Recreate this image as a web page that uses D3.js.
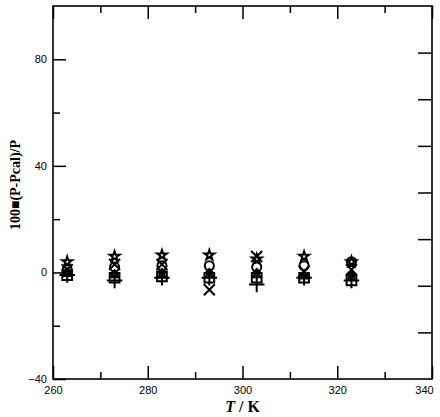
<!DOCTYPE html>
<html>
<head>
<meta charset="utf-8">
<script src="https://cdn.jsdelivr.net/npm/d3@7"></script>
<style>
  body { margin: 0; background: #fff; }
  .tick text { font-family: 'Liberation Sans', Arial, sans-serif; font-size: 11px; fill: #000; }
  .tick line { stroke: #000; stroke-width: 1.5; }
</style>
</head>
<body>
<div id="chart"></div>
<script>
// temperatures (K)
const temps = [263, 273, 283, 293, 303, 313, 323];

// deviations 100*(P-Pcal)/P, one array per marker series
const starDev = [4, 6, 6.5, 6.5, 5, 6, 4];
const circleDev = [1, 2, 2.5, 2.5, 2, 2.5, 4];
const timesDev = [1, 3, 3, -6.5, 6, 0.5, 1];
const squareDev = [-1, -2, -1.5, -2, -2, -2, -3];
const triangleDev = [-0.5, -1, -1, -1, -1, -1.5, -2];
const plusDev = [-1, -3, -2, -2, -4.5, -2, -3];
const diamondDev = [0, -0.5, 0, 0, 0, -1, -1];

const xMajor = [260, 280, 300, 320, 340];
const xMinor = [270, 290, 310, 330];
const yMajor = [-40, 0, 40, 80];
const yMinor = [-20, 20, 60];

const series = [
  { name: 'star', values: starDev, symbol: d3.symbolStar, size: 30 },
  { name: 'circle', values: circleDev, symbol: d3.symbolCircle, size: 65 },
  { name: 'times', values: timesDev, symbol: d3.symbolTimes, size: 80 },
  { name: 'square', values: squareDev, symbol: d3.symbolSquare2, size: 120 },
  { name: 'triangle', values: triangleDev, symbol: d3.symbolTriangle2, size: 40 },
  { name: 'plus', values: plusDev, symbol: d3.symbolPlus, size: 80 },
  { name: 'diamond', values: diamondDev, symbol: d3.symbolDiamond2, size: 30 },
];

const width = 440;
const height = 417;
const margin = { top: 6, right: 8, bottom: 38, left: 53 };
const innerW = width - margin.left - margin.right;
const innerH = height - margin.top - margin.bottom;

const svg = d3.select('#chart').append('svg')
  .attr('width', width)
  .attr('height', height);

const g = svg.append('g')
  .attr('transform', `translate(${margin.left},${margin.top})`);

const x = d3.scaleLinear().domain([260, 340]).range([0, innerW]);
const y = d3.scaleLinear().domain([-40, 100]).range([innerH, 0]);
// right axis has its own 8 equal divisions
const yRight = d3.scaleLinear().domain([0, 8]).range([innerH, 0]);

// bottom axis
g.append('g')
  .attr('transform', `translate(0,${innerH})`)
  .call(d3.axisBottom(x).tickValues(xMajor).tickSize(-13).tickPadding(7).tickFormat(d3.format('d')))
  .call(a => a.select('.domain').remove())
  .call(a => a.selectAll('.tick text').filter(d => d === 340).attr('dx', -8));
g.append('g')
  .attr('transform', `translate(0,${innerH})`)
  .call(d3.axisBottom(x).tickValues(xMinor).tickSize(-7).tickFormat(''))
  .call(a => a.select('.domain').remove());

// top axis
g.append('g')
  .call(d3.axisTop(x).tickValues(xMajor).tickSize(-13).tickFormat(''))
  .call(a => a.select('.domain').remove());
g.append('g')
  .call(d3.axisTop(x).tickValues(xMinor).tickSize(-7).tickFormat(''))
  .call(a => a.select('.domain').remove());

// left axis
g.append('g')
  .call(d3.axisLeft(y).tickValues(yMajor).tickSize(-13).tickPadding(6))
  .call(a => a.select('.domain').remove());
g.append('g')
  .call(d3.axisLeft(y).tickValues(yMinor).tickSize(-7).tickFormat(''))
  .call(a => a.select('.domain').remove());

// right axis
g.append('g')
  .attr('transform', `translate(${innerW},0)`)
  .call(d3.axisRight(yRight).tickValues(d3.range(1, 8)).tickSize(-14).tickFormat(''))
  .call(a => a.select('.domain').remove());

// frame
g.append('rect')
  .attr('width', innerW)
  .attr('height', innerH)
  .attr('fill', 'none')
  .attr('stroke', '#000')
  .attr('stroke-width', 1.6);

// markers
series.forEach((s) => {
  g.append('g')
    .attr('class', `series-${s.name}`)
    .selectAll('path')
    .data(s.values)
    .enter().append('path')
    .attr('transform', (d, i) => `translate(${x(temps[i])},${y(d)})`)
    .attr('d', d3.symbol().type(s.symbol).size(s.size))
    .attr('fill', 'none')
    .attr('stroke', '#000')
    .attr('stroke-width', 2);
});

// axis titles
const xTitle = svg.append('text')
  .attr('x', margin.left + innerW / 2)
  .attr('y', 412)
  .attr('text-anchor', 'middle')
  .attr('font-family', "'Liberation Serif', 'Times New Roman', serif")
  .attr('font-weight', 'bold')
  .attr('font-size', 16);
xTitle.append('tspan').attr('font-style', 'italic').text('T');
xTitle.append('tspan').text(' / K');

svg.append('text')
  .attr('transform', `translate(20,${185}) rotate(-90)`)
  .attr('text-anchor', 'middle')
  .attr('font-family', "'Liberation Serif', 'Times New Roman', serif")
  .attr('font-weight', 'bold')
  .attr('font-size', 14)
  .text('100\u25A0(P-Pcal)/P');
</script>
</body>
</html>
